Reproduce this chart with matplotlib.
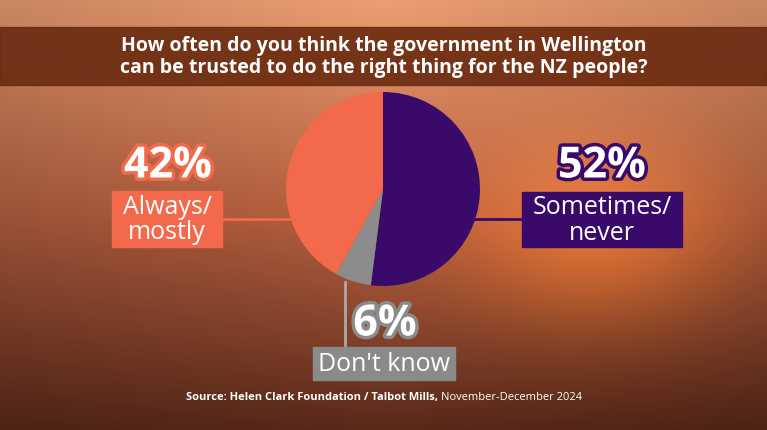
import matplotlib
matplotlib.use("Agg")
import matplotlib.pyplot as plt
import matplotlib.patheffects as pe
from matplotlib.patches import Rectangle
import numpy as np

categories = ["Sometimes/\nnever", "Don't know", "Always/\nmostly"]
values = [52, 6, 42]
colors = ["#3a0a6b", "#8c8c8c", "#f26a4b"]
title = "How often do you think the government in Wellington\ncan be trusted to do the right thing for the NZ people?"

W, H = 767, 431
fig = plt.figure(figsize=(W/100, H/100), dpi=100)
ax = fig.add_axes([0, 0, 1, 1])
ax.set_xlim(0, W); ax.set_ylim(0, H); ax.set_aspect("equal"); ax.axis("off")

t = np.linspace(0, 1, 200)[:, None]
xx = np.linspace(0, 1, 300)[None, :]
top = np.array([0.93, 0.62, 0.45]); mid = np.array([0.72, 0.38, 0.25]); bot = np.array([0.35, 0.16, 0.10])
g = np.where(t < 0.5, t*2, (t-0.5)*2)[..., None]
base = np.where((t < 0.5)[..., None], top*(1-g)+mid*g, mid*(1-g)+bot*g)
glow = np.exp(-((xx-0.78)**2/0.03 + (t-0.55)**2/0.05))[..., None]
img = np.clip(base*(1-0.3*(np.abs(xx-0.5)[..., None])) + glow*np.array([0.25, 0.12, 0.0]), 0, 1)
ax.imshow(img, extent=[0, W, 0, H], origin="upper", aspect="auto", zorder=0)

FONT = "Open Sans"
ax.add_patch(Rectangle((0, H-86), W, 58, color="#6b2a10", alpha=0.9, zorder=1))
ax.text(W/2, H-57, title, ha="center", va="center", color="white", fontsize=14,
        fontweight="bold", family=FONT, linespacing=1.1, zorder=2)

cx, cy, r = 383, H-190, 97
ax.pie(values, colors=colors, startangle=90, counterclock=False, center=(cx, cy), radius=r,
       wedgeprops=dict(linewidth=0), frame=True)
ax.set_xlim(0, W); ax.set_ylim(0, H); ax.axis("off")

def label(pct, text, color, px, py, box):
    x0, y0, x1, y1 = box
    ax.add_patch(Rectangle((x0, H-y1), x1-x0, y1-y0, color=color, zorder=3))
    ax.text((x0+x1)/2, H-(y0+y1)/2, text, ha="center", va="center", color="white",
            fontsize=18, family=FONT, linespacing=1.0, zorder=4)
    ax.text(px, H-py, pct, ha="center", va="center", color="white", fontsize=31,
            fontweight="bold", family=FONT, zorder=4,
            path_effects=[pe.withStroke(linewidth=5, foreground=color)])

label(f"{values[2]}%", categories[2], colors[2], 168, 167, (112, 192, 222, 248))
label(f"{values[0]}%", categories[0], colors[0], 602, 167, (522, 193, 682, 248))
label(f"{values[1]}%", categories[1], "#8a8a8a", 385, 325, (313, 348, 455, 381))

ax.plot([222, 300], [H-220, H-220], color=colors[2], lw=2, zorder=2)
ax.plot([470, 522], [H-220, H-220], color=colors[0], lw=2, zorder=2)
ax.plot([345, 345], [H-283, H-348], color="#aaaaaa", lw=2, zorder=2)

ax.text(438, H-398, "Source: Helen Clark Foundation / Talbot Mills,", ha="right", va="center",
        color="white", fontsize=8, fontweight="bold", family=FONT, zorder=4)
ax.text(441, H-398, "November-December 2024", ha="left", va="center",
        color="white", fontsize=8, family=FONT, zorder=4)

fig.savefig("out.png", dpi=100)
